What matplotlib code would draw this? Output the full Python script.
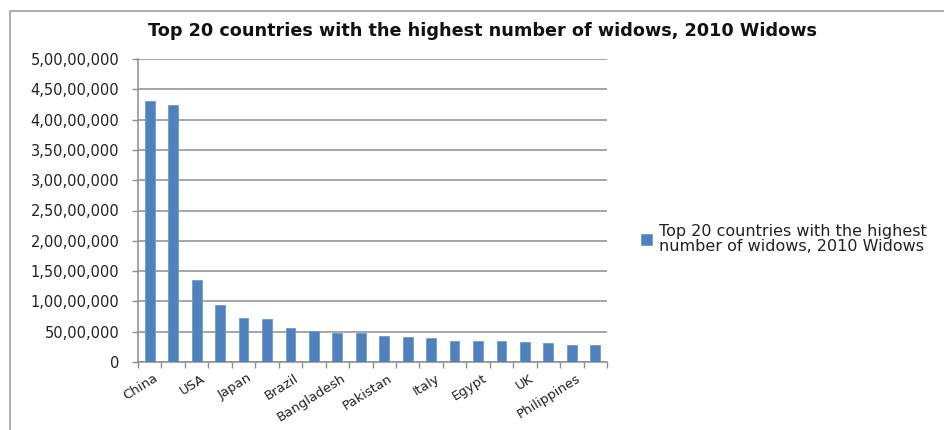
import matplotlib
matplotlib.use("Agg")
import matplotlib.pyplot as plt
from matplotlib.lines import Line2D
from matplotlib.ticker import FuncFormatter, MultipleLocator
from matplotlib.transforms import ScaledTranslation
import numpy as np

TITLE = "Top 20 countries with the highest number of widows, 2010 Widows"
SERIES = "Top 20 countries with the highest\nnumber of widows, 2010 Widows"

# every second country is named on the axis
LABELS = ["China", "", "USA", "", "Japan", "", "Brazil", "", "Bangladesh", "",
          "Pakistan", "", "Italy", "", "Egypt", "", "UK", "", "Philippines", ""]
WIDOWS = [43070000, 42360000, 13580000, 9470000, 7330000, 7100000, 5610000,
          5120000, 4790000, 4790000, 4350000, 4130000, 3910000, 3470000,
          3470000, 3470000, 3250000, 3090000, 2870000, 2870000]

BAR = "#4f81bd"
GRID = "#8e8e8e"
TEXT = "#222222"


def indian(v, pos=None):
    s = str(int(round(v)))
    if len(s) <= 3:
        return s
    head, tail = s[:-3], s[-3:]
    parts = []
    while len(head) > 2:
        parts.insert(0, head[-2:])
        head = head[:-2]
    if head:
        parts.insert(0, head)
    return ",".join(parts + [tail])


plt.rcParams["font.family"] = "DejaVu Sans"

fig = plt.figure(figsize=(9.44, 4.30), dpi=100)
ax = fig.add_axes([138 / 944, 1 - 362 / 430, 469 / 944, 303 / 430])

x = np.arange(len(WIDOWS))
ax.bar(x, WIDOWS, width=0.42, color=BAR, edgecolor="#6f9bd0", linewidth=0.6,
       zorder=3, label=SERIES)

ax.set_xlim(-0.5, len(WIDOWS) - 0.5)
ax.set_ylim(0, 50000000)
ax.yaxis.set_major_locator(MultipleLocator(5000000))
ax.yaxis.set_major_formatter(FuncFormatter(indian))
ax.yaxis.grid(True, color=GRID, linewidth=1.1, zorder=0)

ax.set_xticks(x)
ax.set_xticklabels(LABELS, rotation=32, ha="right", va="top",
                   rotation_mode="anchor")
ax.set_xticks(np.arange(-0.5, len(WIDOWS)), minor=True)
ax.tick_params(axis="x", which="major", length=0, pad=7, labelsize=9.5,
               labelcolor=TEXT)
ax.tick_params(axis="x", which="minor", length=4, color=GRID, width=1)
ax.tick_params(axis="y", length=4.5, color=GRID, width=1, pad=9,
               labelsize=10.5, labelcolor=TEXT)

# nudge the slanted names a little to the right of their bars
shift = ScaledTranslation(4 / 100, 0, fig.dpi_scale_trans)
for lbl in ax.get_xticklabels():
    lbl.set_transform(lbl.get_transform() + shift)

for side in ["top", "right"]:
    ax.spines[side].set_visible(False)
for side in ["left", "bottom"]:
    ax.spines[side].set_color(GRID)
    ax.spines[side].set_linewidth(1.1)

fig.text(483 / 944, 1 - 31 / 430, TITLE, ha="center", va="center",
         fontsize=12.7, fontweight="bold", color="#111111")

leg = fig.legend(loc="center left", bbox_to_anchor=(627 / 944, 1 - 239 / 430),
                 frameon=False, fontsize=11.5, handlelength=0.65,
                 handleheight=0.65, handletextpad=0.45, labelcolor=TEXT)
for t in leg.get_texts():
    t.set_linespacing(0.95)

# chart frame, open on the right and bottom
frame_x, frame_y = 9.5 / 944, 1 - 11 / 430
fig.add_artist(Line2D([frame_x, frame_x, 1], [0, frame_y, frame_y],
                      transform=fig.transFigure, color="#a6a6a6", linewidth=1.3))

fig.savefig("out.png", dpi=100)
